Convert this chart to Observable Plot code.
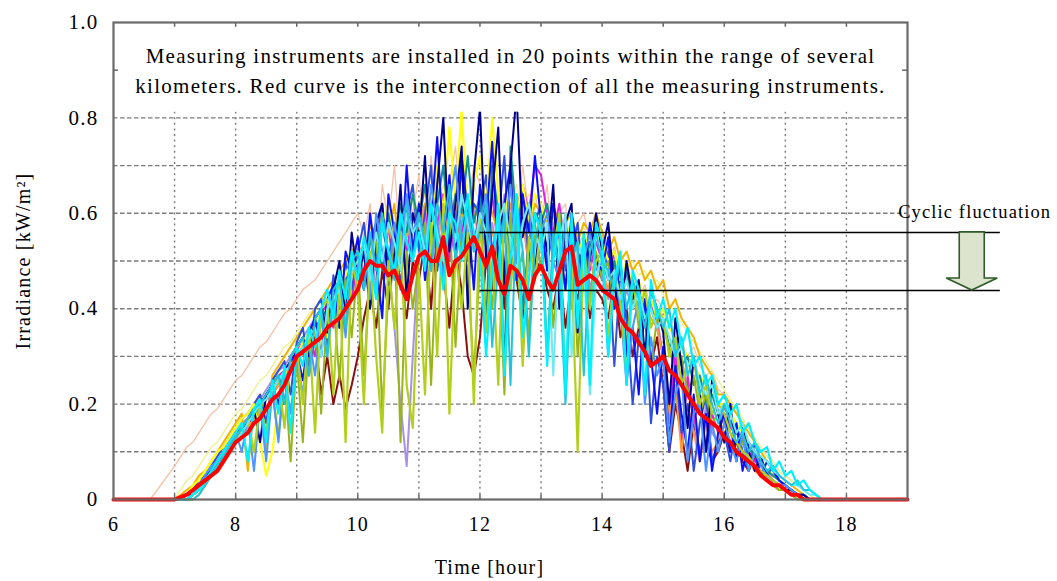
<!DOCTYPE html>
<html>
<head>
<meta charset="utf-8">
<script src="https://cdn.jsdelivr.net/npm/d3@7"></script>
<script src="https://cdn.jsdelivr.net/npm/@observablehq/plot@0.6"></script>
<style>
  html, body { margin: 0; padding: 0; background: #fff; }
  #chart svg { display: block; }
</style>
</head>
<body>
<div id="chart"></div>
<script>
// ---------- data ----------
const hours = [
  7,7.1,7.2,7.3,7.4,7.5,7.6,7.7,7.8,7.9,
  8,8.1,8.2,8.3,8.4,8.5,8.6,8.7,8.8,8.9,
  9,9.1,9.2,9.3,9.4,9.5,9.6,9.7,9.8,9.9,
  10,10.1,10.2,10.3,10.4,10.5,10.6,10.7,10.8,10.9,
  11,11.1,11.2,11.3,11.4,11.5,11.6,11.7,11.8,11.9,
  12,12.1,12.2,12.3,12.4,12.5,12.6,12.7,12.8,12.9,
  13,13.1,13.2,13.3,13.4,13.5,13.6,13.7,13.8,13.9,
  14,14.1,14.2,14.3,14.4,14.5,14.6,14.7,14.8,14.9,
  15,15.1,15.2,15.3,15.4,15.5,15.6,15.7,15.8,15.9,
  16,16.1,16.2,16.3,16.4,16.5,16.6,16.7,16.8,16.9,
  17,17.1,17.2,17.3,17.4,17.5,17.6,17.7
];
const salmonHours = [6.6, ...hours];
const redHours = [6, ...hours, 19];

const salmon = [0,
  .07,.09,.11,.12,.14,.16,.18,.19,.21,.23,
  .25,.26,.28,.30,.32,.33,.35,.37,.39,.40,
  .42,.44,.45,.46,.48,.50,.52,.54,.56,.58,
  .60,.55,.62,.48,.66,.58,.70,.52,.64,.60,
  .68,.55,.72,.60,.50,.66,.74,.58,.62,.70,
  .66,.58,.72,.50,.62,.68,.55,.70,.60,.64,
  .58,.66,.52,.60,.62,.48,.58,.60,.54,.56,
  .55,.50,.53,.46,.50,.48,.42,.45,.40,.42,
  .40,.36,.38,.33,.30,.32,.28,.26,.27,.23,
  .22,.20,.18,.16,.15,.12,.11,.09,.08,.06,
  .05,.04,.03,.02,.01,0,0,0];
const paleYellow = [
  0,.02,.04,.05,.07,.09,.11,.12,.14,.16,
  .18,.19,.21,.23,.25,.26,.28,.30,.32,.33,
  .35,.37,.39,.40,.42,.44,.46,.47,.49,.51,
  .53,.50,.56,.52,.58,.54,.60,.56,.62,.58,
  .60,.64,.58,.62,.66,.60,.64,.58,.62,.66,
  .62,.66,.60,.64,.58,.62,.66,.60,.64,.62,
  .60,.62,.58,.60,.56,.58,.55,.57,.54,.56,
  .53,.54,.51,.52,.49,.50,.47,.48,.45,.46,
  .43,.41,.39,.37,.35,.33,.31,.29,.27,.25,
  .23,.21,.19,.17,.15,.13,.11,.09,.08,.06,
  .05,.04,.03,.02,.01,0,0,0];
const maroon = [
  0,0,.01,.01,.02,.04,.05,.07,.09,.10,
  .12,.14,.16,.17,.19,.21,.22,.24,.26,.27,
  .29,.31,.26,.34,.22,.30,.20,.26,.19,.24,
  .30,.38,.44,.36,.48,.40,.52,.46,.38,.50,
  .46,.54,.40,.58,.48,.36,.52,.44,.30,.26,
  .34,.50,.44,.58,.40,.52,.46,.38,.54,.48,
  .50,.44,.40,.48,.36,.46,.42,.50,.38,.44,
  .42,.38,.46,.34,.40,.30,.36,.32,.28,.34,
  .24,.10,.20,.14,.06,.16,.10,.12,.08,.10,
  .14,.10,.12,.08,.06,.09,.05,.04,.03,.02,
  .02,.01,.01,0,0,0,0,0];
const lavender = [
  0,0,0,.01,.02,.04,.06,.08,.10,.12,
  .14,.16,.17,.19,.21,.23,.25,.27,.28,.30,
  .32,.34,.36,.38,.40,.35,.44,.46,.40,.50,
  .52,.48,.56,.44,.58,.50,.36,.20,.07,.30,
  .52,.60,.48,.56,.62,.50,.58,.64,.52,.60,
  .62,.54,.58,.50,.64,.56,.52,.60,.48,.56,
  .54,.50,.58,.46,.52,.40,.48,.56,.44,.50,
  .48,.42,.50,.38,.44,.40,.46,.36,.42,.38,
  .30,.16,.34,.12,.24,.18,.08,.20,.14,.12,
  .20,.16,.14,.12,.10,.09,.07,.06,.04,.03,
  .02,.02,.01,0,0,0,0,0];
const magenta = [
  0,0,0,.01,.02,.03,.05,.07,.09,.11,
  .13,.15,.17,.18,.20,.22,.24,.26,.27,.29,
  .31,.33,.35,.30,.39,.41,.36,.45,.47,.42,
  .50,.52,.46,.55,.50,.57,.48,.58,.52,.60,
  .56,.62,.52,.58,.64,.50,.60,.56,.62,.54,
  .60,.56,.64,.52,.58,.62,.54,.66,.60,.70,
  .68,.60,.56,.62,.52,.58,.50,.56,.48,.54,
  .50,.46,.52,.42,.48,.40,.44,.38,.42,.36,
  .30,.18,.30,.12,.26,.16,.22,.10,.18,.14,
  .18,.15,.14,.12,.10,.08,.07,.06,.05,.04,
  .03,.02,.01,0,0,0,0,0];
const gold = [
  0,.01,.02,.03,.05,.06,.08,.10,.12,.14,
  .16,.18,.06,.20,.22,.10,.26,.28,.30,.32,
  .34,.36,.38,.40,.42,.44,.46,.48,.50,.52,
  .54,.50,.58,.52,.60,.56,.62,.50,.64,.58,
  .60,.66,.56,.62,.58,.64,.54,.60,.56,.62,
  .58,.64,.60,.56,.62,.58,.64,.60,.56,.62,
  .60,.58,.62,.56,.58,.60,.54,.58,.56,.60,
  .56,.52,.55,.50,.52,.48,.50,.46,.48,.44,
  .46,.40,.42,.38,.36,.34,.30,.28,.26,.22,
  .22,.20,.18,.16,.14,.12,.10,.08,.06,.05,
  .04,.03,.02,.01,0,0,0,0];
const orange = [
  0,0,0,.01,.02,.03,.05,.07,.08,.10,
  .12,.14,.15,.17,.19,.21,.22,.24,.26,.28,
  .29,.31,.33,.35,.37,.39,.41,.43,.45,.47,
  .49,.52,.47,.55,.50,.57,.53,.59,.55,.60,
  .56,.62,.58,.54,.60,.56,.62,.52,.58,.60,
  .54,.60,.56,.52,.58,.62,.54,.58,.50,.56,
  .58,.52,.56,.50,.54,.52,.48,.54,.50,.46,
  .48,.44,.50,.42,.46,.44,.40,.42,.38,.36,
  .30,.18,.24,.10,.20,.14,.08,.16,.10,.12,
  .16,.12,.10,.13,.08,.06,.05,.04,.03,.02,
  .02,.01,0,0,0,0,0,0];
const yellow = [
  0,0,.01,.03,.04,.06,.08,.10,.11,.13,
  .15,.17,.18,.20,.12,.05,.10,.20,.26,.28,
  .30,.33,.35,.37,.39,.34,.42,.45,.47,.50,
  .52,.46,.55,.50,.58,.62,.52,.60,.56,.64,
  .58,.66,.52,.70,.60,.78,.62,.82,.58,.66,
  .72,.60,.80,.64,.56,.70,.60,.66,.58,.64,
  .62,.56,.60,.52,.58,.54,.50,.56,.52,.58,
  .54,.50,.52,.46,.50,.44,.46,.40,.42,.38,
  .40,.36,.34,.32,.30,.28,.26,.24,.22,.20,
  .20,.18,.16,.14,.12,.10,.08,.06,.05,.04,
  .03,.02,.01,0,0,0,0,0];
const teal = [
  0,0,0,.01,.02,.04,.06,.07,.09,.11,
  .13,.15,.16,.18,.20,.22,.23,.25,.27,.29,
  .30,.32,.34,.36,.38,.40,.42,.36,.46,.48,
  .50,.44,.54,.58,.48,.60,.52,.62,.56,.64,
  .58,.66,.54,.62,.70,.56,.64,.60,.72,.58,
  .64,.36,.70,.60,.28,.74,.58,.40,.54,.60,
  .58,.62,.54,.60,.50,.56,.52,.48,.54,.50,
  .52,.46,.50,.42,.48,.40,.44,.38,.40,.36,
  .38,.32,.34,.28,.30,.24,.26,.20,.22,.18,
  .20,.16,.14,.12,.11,.09,.08,.06,.05,.04,
  .03,.02,.01,.01,0,0,0,0];
const olive = [
  0,0,0,0,.01,.03,.05,.06,.08,.10,
  .12,.14,.16,.18,.19,.21,.23,.13,.27,.08,
  .30,.12,.34,.36,.18,.40,.42,.25,.46,.34,
  .50,.26,.48,.54,.18,.44,.56,.12,.52,.40,
  .50,.58,.24,.54,.46,.60,.32,.56,.48,.26,
  .50,.58,.40,.54,.22,.60,.46,.52,.34,.58,
  .48,.54,.36,.50,.44,.56,.30,.48,.42,.52,
  .46,.50,.40,.44,.32,.46,.36,.42,.28,.38,
  .36,.32,.26,.30,.22,.26,.18,.22,.16,.18,
  .16,.14,.10,.12,.08,.07,.06,.04,.03,.02,
  .02,.01,0,0,0,0,0,0];
const lightBlue = [
  0,0,0,.01,.03,.05,.07,.08,.10,.12,
  .14,.10,.17,.06,.20,.08,.23,.12,.26,.18,
  .30,.22,.34,.26,.38,.30,.42,.46,.34,.50,
  .48,.54,.42,.60,.52,.46,.58,.50,.64,.56,
  .60,.50,.66,.58,.46,.62,.70,.54,.60,.52,
  .58,.64,.48,.60,.54,.66,.50,.58,.62,.46,
  .56,.60,.50,.46,.58,.52,.44,.50,.56,.48,
  .50,.30,.48,.40,.24,.36,.42,.20,.34,.26,
  .30,.12,.22,.26,.08,.18,.20,.06,.16,.10,
  .16,.12,.08,.14,.06,.10,.07,.05,.04,.03,
  .03,.02,.01,0,0,0,0,0];
const midBlue = [
  0,0,.01,.02,.04,.05,.07,.09,.11,.13,
  .15,.17,.18,.20,.22,.16,.25,.27,.29,.22,
  .33,.36,.28,.40,.42,.32,.47,.40,.50,.44,
  .52,.58,.46,.55,.62,.50,.58,.44,.60,.66,
  .52,.60,.70,.48,.58,.64,.56,.70,.50,.62,
  .60,.68,.52,.58,.72,.48,.60,.66,.50,.58,
  .62,.50,.56,.60,.48,.52,.58,.44,.54,.50,
  .46,.52,.28,.48,.38,.20,.34,.40,.16,.30,
  .24,.10,.28,.14,.20,.06,.16,.22,.08,.12,
  .14,.08,.16,.10,.06,.12,.08,.05,.07,.04,
  .03,.02,.01,.01,0,0,0,0];
const blue = [
  0,0,0,.01,.02,.04,.06,.08,.09,.11,
  .13,.15,.16,.18,.20,.22,.24,.20,.27,.29,
  .31,.25,.35,.38,.30,.42,.45,.36,.52,.48,
  .55,.44,.60,.50,.38,.64,.56,.48,.70,.52,
  .62,.46,.58,.76,.54,.68,.50,.72,.60,.44,
  .66,.58,.75,.50,.62,.70,.46,.64,.56,.72,
  .58,.48,.62,.55,.44,.60,.52,.46,.58,.50,
  .48,.55,.40,.50,.30,.36,.22,.42,.30,.18,
  .32,.12,.28,.18,.10,.22,.08,.18,.06,.14,
  .18,.10,.16,.06,.12,.10,.05,.08,.06,.04,
  .03,.02,.01,0,0,0,0,0];
const navy = [
  0,0,.01,.02,.03,.05,.06,.08,.10,.12,
  .14,.15,.17,.19,.12,.22,.24,.26,.20,.30,
  .32,.34,.30,.38,.40,.35,.44,.50,.38,.56,
  .46,.52,.40,.58,.62,.45,.50,.66,.42,.60,
  .55,.72,.48,.66,.80,.52,.62,.74,.40,.68,
  .82,.50,.64,.78,.45,.70,.85,.55,.62,.48,
  .60,.52,.66,.40,.58,.62,.35,.55,.50,.60,
  .52,.58,.45,.38,.50,.42,.46,.30,.44,.40,
  .35,.20,.38,.28,.15,.30,.22,.10,.25,.18,
  .12,.20,.08,.15,.10,.06,.09,.05,.04,.03,
  .02,.02,.01,.01,0,0,0,0];
const yellowGreen = [
  0,0,0,.01,.02,.04,.05,.07,.09,.11,
  .13,.15,.17,.10,.20,.14,.24,.26,.15,.30,
  .32,.20,.36,.14,.40,.42,.22,.46,.12,.50,
  .44,.20,.52,.30,.14,.50,.36,.56,.24,.15,
  .48,.22,.58,.30,.62,.18,.52,.40,.56,.20,
  .60,.35,.52,.24,.62,.44,.58,.28,.55,.46,
  .58,.30,.52,.60,.22,.48,.10,.54,.40,.50,
  .52,.34,.48,.42,.26,.46,.38,.44,.36,.40,
  .38,.30,.34,.24,.28,.30,.20,.24,.18,.20,
  .18,.14,.12,.10,.09,.07,.06,.05,.04,.03,
  .02,.01,.01,0,0,0,0,0];
const lightCyan = [
  0,0,0,.01,.02,.03,.05,.07,.09,.11,
  .12,.14,.16,.18,.20,.21,.23,.25,.27,.28,
  .30,.32,.34,.36,.30,.40,.42,.44,.38,.48,
  .50,.54,.46,.56,.50,.58,.54,.48,.60,.56,
  .58,.52,.62,.56,.50,.60,.54,.64,.58,.52,
  .60,.56,.50,.58,.62,.54,.48,.58,.62,.56,
  .52,.58,.26,.54,.60,.30,.54,.50,.22,.46,
  .52,.46,.48,.42,.46,.40,.44,.38,.40,.36,
  .38,.34,.30,.32,.28,.30,.24,.22,.24,.18,
  .20,.18,.14,.16,.12,.10,.09,.08,.06,.05,
  .04,.03,.03,.02,.01,.01,0,0];
const turquoise = [
  0,0,0,0,.01,.03,.05,.07,.09,.11,
  .13,.15,.17,.19,.20,.22,.24,.26,.20,.30,
  .32,.34,.26,.38,.40,.30,.44,.46,.36,.50,
  .52,.44,.56,.48,.60,.52,.46,.58,.62,.50,
  .60,.54,.48,.62,.56,.66,.50,.58,.62,.52,
  .56,.62,.32,.50,.60,.24,.62,.52,.30,.54,
  .60,.30,.56,.48,.20,.50,.54,.26,.52,.56,
  .50,.48,.44,.50,.40,.46,.42,.36,.44,.40,
  .36,.40,.30,.34,.26,.30,.22,.26,.20,.16,
  .20,.16,.12,.14,.10,.12,.08,.06,.07,.05,
  .04,.03,.04,.02,.02,.01,0,0];
const cyan = [
  0,0,0,.01,.02,.04,.06,.08,.10,.12,
  .14,.16,.08,.19,.21,.12,.25,.18,.28,.14,
  .32,.28,.36,.32,.40,.44,.38,.48,.42,.52,
  .46,.55,.50,.42,.58,.52,.48,.60,.54,.50,
  .56,.48,.62,.54,.44,.60,.58,.50,.64,.56,
  .52,.30,.48,.62,.26,.50,.64,.34,.46,.60,
  .56,.28,.50,.58,.22,.60,.36,.56,.24,.58,
  .54,.30,.46,.52,.24,.48,.44,.22,.46,.38,
  .42,.36,.40,.32,.36,.28,.30,.24,.26,.20,
  .22,.18,.20,.14,.16,.12,.10,.11,.06,.08,
  .05,.06,.03,.04,.02,.01,0,0];
// interconnection of all instruments (red curve), 6 h ... 19 h
const redValues = [0,
  0,.005,.01,.02,.03,.04,.05,.06,.08,.10,
  .12,.13,.14,.16,.17,.19,.21,.22,.24,.27,
  .30,.31,.32,.33,.34,.36,.37,.38,.40,.42,
  .44,.48,.50,.49,.49,.47,.48,.45,.42,.47,
  .51,.52,.50,.50,.55,.47,.50,.51,.53,.55,
  .52,.49,.53,.46,.43,.49,.48,.46,.42,.47,
  .49,.46,.44,.48,.52,.53,.45,.46,.47,.46,
  .44,.43,.42,.38,.36,.35,.33,.31,.28,.29,
  .30,.27,.26,.24,.22,.20,.18,.17,.16,.15,
  .13,.12,.10,.09,.08,.07,.05,.04,.03,.03,
  .02,.01,.01,0,0,0,0,0,
  0];

const xTickValues = [6, 8, 10, 12, 14, 16, 18];
const yTickValues = [0, 0.2, 0.4, 0.6, 0.8, 1.0];
const yTickLabels = ["0", "0.2", "0.4", "0.6", "0.8", "1.0"];
const gridHours = [7, 8, 9, 10, 11, 12, 13, 14, 15, 16, 17, 18];
const gridLevels = [0.1, 0.2, 0.3, 0.4, 0.5, 0.6, 0.7, 0.8];
const frameTickHours = [7, 8, 9, 10, 11, 12, 13, 14, 15, 16, 17, 18];
const fluctuationTop = 0.56;
const fluctuationBottom = 0.438;
const fluctuationStartHour = 12;
const fluctuationEndHour = 20.52;
const arrowHour = 20.06;
const titleLines = [
  "Measuring instruments are installed in 20 points within the range of several",
  "kilometers. Red curve is the interconnection of all the measuring instruments."
];
const fluctuationLabel = "Cyclic fluctuation";
const xLabel = "Time [hour]";
const yLabel = "Irradiance [kW/m\u00B2]";

// ---------- styles (drawing order: first = bottom) ----------
const seriesList = [
  {values: salmon, hoursOf: salmonHours, color: "#f6c2a6", width: 1.3},
  {values: paleYellow, hoursOf: hours, color: "#eef08c", width: 1.3},
  {values: maroon, hoursOf: hours, color: "#8a1010", width: 2},
  {values: lavender, hoursOf: hours, color: "#a890e6", width: 2},
  {values: magenta, hoursOf: hours, color: "#dd22dd", width: 2},
  {values: gold, hoursOf: hours, color: "#f0b400", width: 2},
  {values: orange, hoursOf: hours, color: "#ff9a3c", width: 2},
  {values: midBlue, hoursOf: hours, color: "#3050d8", width: 2},
  {values: yellow, hoursOf: hours, color: "#ffff1a", width: 2.2},
  {values: teal, hoursOf: hours, color: "#10908c", width: 2},
  {values: olive, hoursOf: hours, color: "#98b41c", width: 2},
  {values: blue, hoursOf: hours, color: "#0a10ff", width: 2},
  {values: navy, hoursOf: hours, color: "#000088", width: 2},
  {values: lightBlue, hoursOf: hours, color: "#4f95ff", width: 2},
  {values: yellowGreen, hoursOf: hours, color: "#b2cf1e", width: 2.2},
  {values: lightCyan, hoursOf: hours, color: "#6fe9f2", width: 2},
  {values: turquoise, hoursOf: hours, color: "#22c4dc", width: 2},
  {values: cyan, hoursOf: hours, color: "#00f0ff", width: 2.2}
];

const serif = "'Liberation Serif', 'Times New Roman', Times, serif";

function arrowMark(index, scales) {
  const x = scales.x(arrowHour);
  const y0 = scales.y(fluctuationTop);
  const y1 = scales.y(fluctuationBottom);
  const sw = 12.5, hw = 25.5, hh = 12;
  const d = `M${x - sw},${y0}H${x + sw}V${y1 - hh}H${x + hw}L${x},${y1}L${x - hw},${y1 - hh}H${x - sw}Z`;
  return d3.create("svg:path")
    .attr("d", d)
    .attr("fill", "#dde4cd")
    .attr("stroke", "#2f5a29")
    .attr("stroke-width", 1.6)
    .attr("stroke-linejoin", "miter")
    .node();
}

const chart = Plot.plot({
  width: 1057,
  height: 581,
  marginTop: 22,
  marginBottom: 82,
  marginLeft: 113,
  marginRight: 150,
  x: {domain: [6, 19]},
  y: {domain: [0, 1]},
  style: {fontFamily: serif, fontSize: "20px", background: "white", color: "black"},
  marks: [
    Plot.gridX(gridHours, {stroke: "#7a7a7a", strokeOpacity: 1, strokeWidth: 1.4, strokeDasharray: "2,3.6"}),
    Plot.gridY(gridLevels, {stroke: "#7a7a7a", strokeOpacity: 1, strokeWidth: 1.4, strokeDasharray: "4.5,2.5"}),
    ...seriesList.map(s => Plot.line(s.values, {
      x: (d, i) => s.hoursOf[i], y: d => d,
      stroke: s.color, strokeWidth: s.width, strokeLinejoin: "round"
    })),
    Plot.line(redValues, {x: (d, i) => redHours[i], y: d => d, stroke: "#ff0000", strokeWidth: 4, strokeLinejoin: "round"}),
    Plot.rect([fluctuationTop], {x1: 6, x2: 19, y1: 0.812, y2: 1, fill: "white"}),
    Plot.ruleX(frameTickHours, {y1: 0.99, y2: 1, stroke: "#666", strokeWidth: 1.5}),
    Plot.ruleX(frameTickHours, {y1: 0, y2: 0.01, stroke: "#666", strokeWidth: 1.5}),
    Plot.ruleY([0.9], {x1: 6, x2: 6.08, stroke: "#666", strokeWidth: 1.5}),
    Plot.ruleY([0.9], {x1: 18.92, x2: 19, stroke: "#666", strokeWidth: 1.5}),
    Plot.frame({stroke: "#6a6a6a", strokeWidth: 2.2}),
    Plot.ruleY([fluctuationTop, fluctuationBottom], {x1: fluctuationStartHour, x2: fluctuationEndHour, stroke: "black", strokeWidth: 1.5}),
    arrowMark,
    Plot.text([fluctuationLabel], {x: arrowHour + 0.04, y: 0.6035, text: d => d, fontSize: 18.5, fontFamily: serif, textAnchor: "middle", lineAnchor: "middle", fill: "black"}),
    Plot.text([titleLines[0]], {frameAnchor: "top", dy: 33.3, text: d => d, fontSize: 21, fontFamily: serif, textAnchor: "middle", lineAnchor: "middle", fill: "black"}),
    Plot.text([titleLines[1]], {frameAnchor: "top", dy: 63.3, text: d => d, fontSize: 21, fontFamily: serif, textAnchor: "middle", lineAnchor: "middle", fill: "black"}),
    Plot.axisX({ticks: xTickValues, tickSize: 0, tickPadding: 17, label: null, fontSize: 20, fontFamily: serif}),
    Plot.axisY({ticks: yTickValues, tickSize: 0, tickPadding: 15, label: null, fontSize: 21, fontFamily: serif,
      tickFormat: d => yTickLabels[yTickValues.indexOf(d)]}),
    Plot.text([xLabel], {frameAnchor: "bottom", dx: -21, dy: 67.6, text: d => d, fontSize: 20, fontFamily: serif, textAnchor: "middle", lineAnchor: "middle", fill: "black"}),
    Plot.text([yLabel], {frameAnchor: "left", dx: -90, rotate: -90, text: d => d, fontSize: 20, fontFamily: serif, textAnchor: "middle", lineAnchor: "middle", fill: "black"})
  ]
});

// the reference lettering is slightly wider than plain Times
d3.select(chart).selectAll("text").style("letter-spacing", "0.06em");

document.getElementById("chart").append(chart);
</script>
</body>
</html>
